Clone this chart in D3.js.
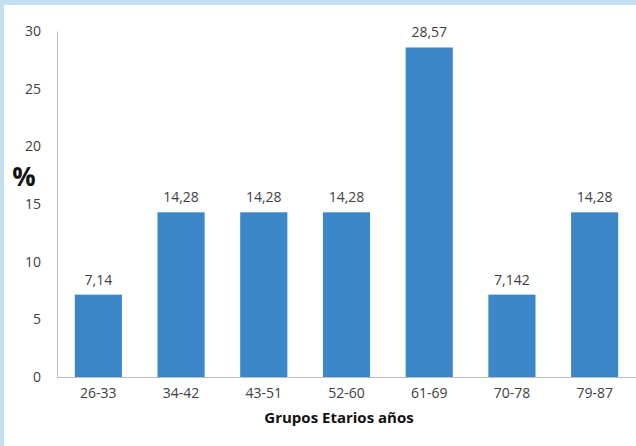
<!DOCTYPE html>
<html>
<head>
<meta charset="utf-8">
<script src="https://cdn.jsdelivr.net/npm/d3@7"></script>
<style>
  html, body { margin: 0; padding: 0; background: #fff; }
  svg { display: block; }
</style>
</head>
<body>
<svg id="chart" width="636" height="446"></svg>
<script>
// Age groups and the share of patients in each (%)
const categories = ["26-33", "34-42", "43-51", "52-60", "61-69", "70-78", "79-87"];
const values = [7.14, 14.28, 14.28, 14.28, 28.57, 7.142, 14.28];
const valueLabels = ["7,14", "14,28", "14,28", "14,28", "28,57", "7,142", "14,28"];
const yTicks = [0, 5, 10, 15, 20, 25, 30];

const svg = d3.select("#chart");
const W = 636, H = 446;
const font = "'Open Sans', 'DejaVu Sans', sans-serif";

// frame strips
svg.append("rect").attr("x", 0).attr("y", 0).attr("width", W).attr("height", H).attr("fill", "#fff");
svg.append("rect").attr("x", 0).attr("y", 0).attr("width", W).attr("height", 5).attr("fill", "#c3def0");
svg.append("rect").attr("x", 0).attr("y", 0).attr("width", 4).attr("height", H).attr("fill", "#c3def0");

const plotLeft = 57, plotRight = 636, plotTop = 31, plotBottom = 377;

const x = d3.scaleBand().domain(categories).range([plotLeft, plotRight]).paddingInner(0.43).paddingOuter(0.215);
const y = d3.scaleLinear().domain([0, 30]).range([plotBottom, plotTop]);

// bars
svg.append("g").selectAll("rect").data(values).join("rect")
  .attr("x", (d, i) => x(categories[i]))
  .attr("y", d => y(d))
  .attr("width", x.bandwidth())
  .attr("height", d => y(0) - y(d))
  .attr("fill", "#3b87c8");

// y axis
const yAxis = svg.append("g").attr("transform", `translate(${plotLeft},0)`)
  .call(d3.axisLeft(y).tickValues(yTicks).tickSize(0).tickPadding(16).tickFormat(d3.format("d")));
yAxis.select(".domain").attr("stroke", "#bcbcbc");
yAxis.selectAll("text").attr("font-family", font).attr("font-size", 14).attr("fill", "#404040");

// x axis
const xAxis = svg.append("g").attr("transform", `translate(0,${plotBottom})`)
  .call(d3.axisBottom(x).tickSize(0).tickPadding(11));
xAxis.select(".domain").attr("stroke", "#bcbcbc").attr("d", `M${plotLeft},0.5H${plotRight}`);
xAxis.selectAll("text").attr("font-family", font).attr("font-size", 14).attr("fill", "#404040");

// value labels above the bars
svg.append("g").selectAll("text").data(values).join("text")
  .attr("x", (d, i) => x(categories[i]) + x.bandwidth() / 2)
  .attr("y", d => y(d) - 10)
  .attr("text-anchor", "middle")
  .attr("font-family", font).attr("font-size", 14).attr("fill", "#404040")
  .text((d, i) => valueLabels[i]);

// axis titles
svg.append("text").attr("x", 24).attr("y", 186).attr("text-anchor", "middle")
  .attr("font-family", font).attr("font-weight", "bold").attr("font-size", 26).attr("fill", "#111")
  .text("%");
svg.append("text").attr("x", 339).attr("y", 423).attr("text-anchor", "middle")
  .attr("font-family", font).attr("font-weight", "bold").attr("font-size", 15).attr("fill", "#111")
  .text("Grupos Etarios años");
</script>
</body>
</html>
